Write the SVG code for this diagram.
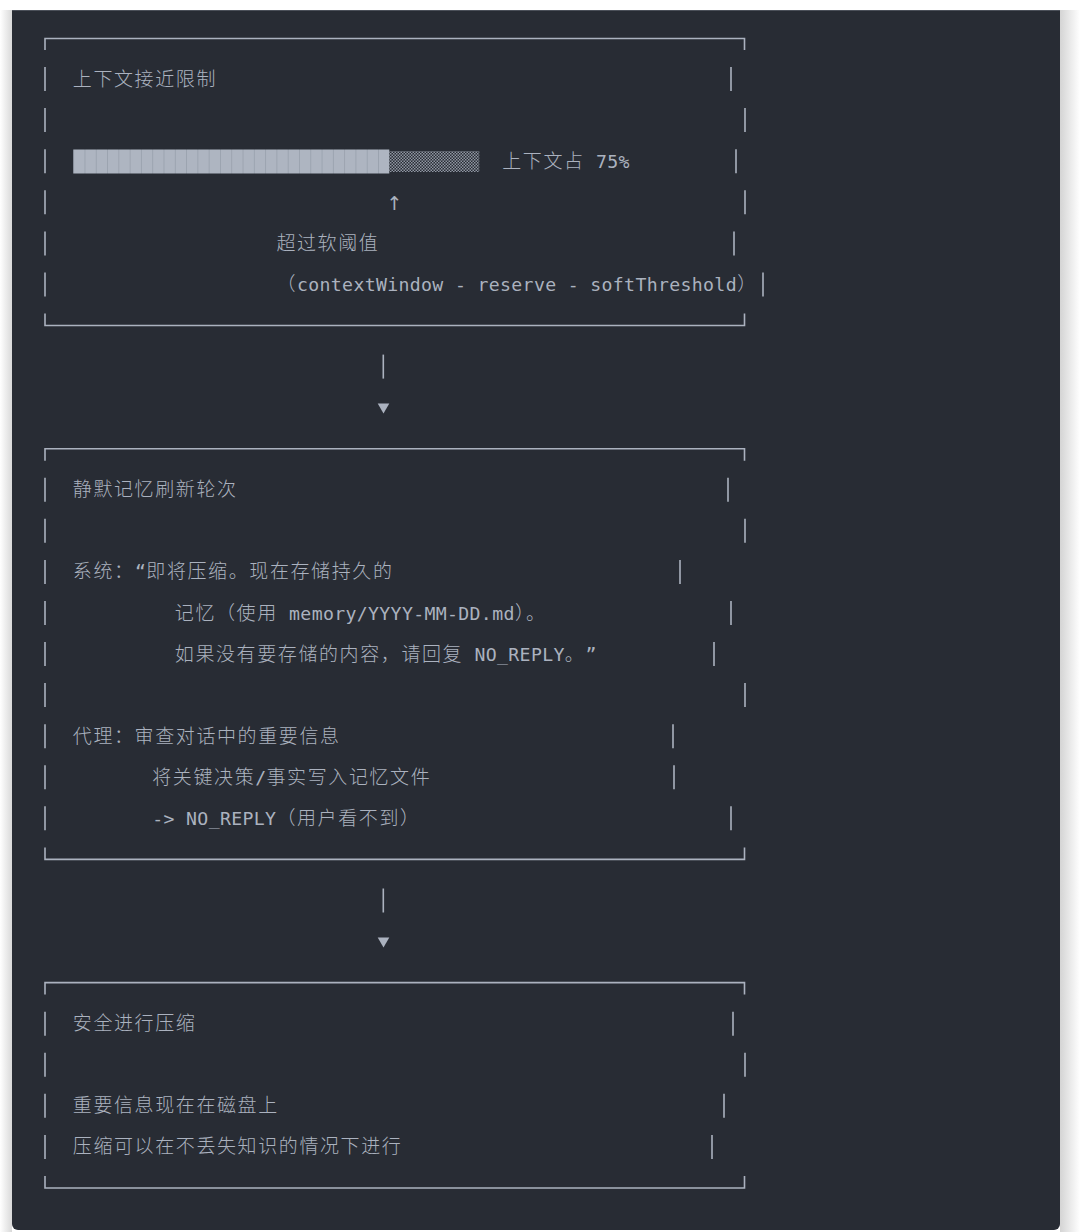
<svg xmlns="http://www.w3.org/2000/svg" width="1080" height="1232" viewBox="0 0 1080 1232">
<defs>
<style>
.m{font-family:"DejaVu Sans Mono","Liberation Mono","Noto Sans CJK SC",monospace;font-size:18.2px;letter-spacing:0.33px;fill:#abb2bf}
.c{font-family:"Noto Sans CJK SC","Noto Sans",sans-serif;font-size:19px;font-weight:300;letter-spacing:1.6px;fill:#abb2bf}
.ar{font-family:"DejaVu Sans","Noto Sans",sans-serif;font-size:19px;fill:#abb2bf}
.ln{fill:none;stroke:#abb2bf;stroke-width:1.6}
</style>
<linearGradient id="shL" x1="0" x2="1" y1="0" y2="0"><stop offset="0" stop-color="#ffffff"/><stop offset="1" stop-color="#d9d9d9"/></linearGradient>
<linearGradient id="shR" x1="0" x2="1" y1="0" y2="0"><stop offset="0" stop-color="#d4d4d4"/><stop offset="1" stop-color="#ffffff"/></linearGradient>
<pattern id="blk" x="73.2" y="0" width="11.29" height="40" patternUnits="userSpaceOnUse"><rect width="11.29" height="40" fill="#aeb5c1"/><rect width="0.8" height="40" fill="#98a0ac"/></pattern>
<pattern id="shd" x="0" y="0" width="3" height="3" patternUnits="userSpaceOnUse"><rect width="1.5" height="1.5" fill="#8f96a2"/><rect x="1.5" y="1.5" width="1.5" height="1.5" fill="#8f96a2"/></pattern>
<polygon id="tri" points="-5.8,-5 5.8,-5 0,5" fill="#abb2bf"/>
</defs>
<rect width="1080" height="1232" fill="#ffffff"/>
<rect x="0" y="10" width="12" height="1222" fill="url(#shL)"/>
<rect x="1060" y="10" width="20" height="1222" fill="url(#shR)"/>
<path d="M12 10H1060V1224A6 6 0 0 1 1054 1230H18A6 6 0 0 1 12 1224Z" fill="#282c34"/>
<line x1="12" y1="10.5" x2="1060" y2="10.5" stroke="#4b5059" stroke-width="1"/>

<g id="box1">
<path class="ln" d="M45 50V38.5H744.5V50M45 313.5V325.5H744.5V313.5M45 67.1V91.1M45 108.1V132.1M45 149.2V173.2M45 190.3V214.3M45 231.4V255.4M45 272.4V296.4M731 67.1V91.1M745 108.1V132.1M736 149.2V173.2M745 190.3V214.3M734 231.4V255.4M763 272.4V296.4"/>
<text class="c" x="72.8" y="85.6">上下文接近限制</text>
<rect x="73.2" y="149.5" width="316.1" height="24" fill="url(#blk)"/>
<rect x="389.3" y="151" width="90" height="21" fill="url(#shd)"/>
<text y="167.7"><tspan class="c" x="502.2">上下文占</tspan><tspan class="m" x="595.9">75%</tspan></text>
<text class="ar" x="394.5" y="209.5" text-anchor="middle">↑</text>
<text class="c" x="276.4" y="249.9">超过软阈值</text>
<text y="290.9"><tspan class="c" x="276.4">（</tspan><tspan class="m" x="297">contextWindow - reserve - softThreshold</tspan><tspan class="c" x="737.3">）</tspan></text>
</g>

<g id="connectors">
<g id="conn1"><line class="ln" x1="383.3" y1="354.6" x2="383.3" y2="378.6"/><use href="#tri" x="383.5" y="408.5"/></g>
<g id="conn2"><line class="ln" x1="383.3" y1="888.5" x2="383.3" y2="912.5"/><use href="#tri" x="383.5" y="942.5"/></g>
</g>

<g id="box2">
<path class="ln" d="M45 460.7V448.7H744.5V460.7M45 847.4V859.4H744.5V847.4M45 477.8V501.8M45 518.8V542.8M45 559.9V583.9M45 601V625M45 642.1V666.1M45 683.1V707.1M45 724.2V748.2M45 765.3V789.3M45 806.3V830.3M728 477.8V501.8M745 518.8V542.8M680 559.9V583.9M731 601V625M714 642.1V666.1M745 683.1V707.1M673 724.2V748.2M674 765.3V789.3M731 806.3V830.3"/>
<text class="c" x="72.8" y="496.3">静默记忆刷新轮次</text>
<text y="578.4"><tspan class="c" x="72.8">系统：</tspan><tspan class="m" x="135">“</tspan><tspan class="c" x="146.3">即将压缩。现在存储持久的</tspan></text>
<text y="619.5"><tspan class="c" x="174.8">记忆（使用</tspan><tspan class="m" x="289.1">memory/YYYY-MM-DD.md</tspan><tspan class="c" x="514.9">）。</tspan></text>
<text y="660.6"><tspan class="c" x="174.8">如果没有要存储的内容，请回复</tspan><tspan class="m" x="474.5">NO_REPLY</tspan><tspan class="c" x="564.8">。</tspan><tspan class="m" x="585.4">”</tspan></text>
<text class="c" x="72.8" y="742.7">代理：审查对话中的重要信息</text>
<text y="783.8"><tspan class="c" x="152.25">将关键决策</tspan><tspan class="m" x="255.25">/</tspan><tspan class="c" x="266.5">事实写入记忆文件</tspan></text>
<text y="824.8"><tspan class="m" x="152.25">-&gt; NO_REPLY</tspan><tspan class="c" x="276.4">（用户看不到）</tspan></text>
</g>

<g id="box3">
<path class="ln" d="M45 994.6V982.6H744.5V994.6M45 1176V1188H744.5V1176M45 1011.7V1035.7M45 1052.8V1076.8M45 1093.8V1117.8M45 1134.9V1158.9M733 1011.7V1035.7M745 1052.8V1076.8M724 1093.8V1117.8M712 1134.9V1158.9"/>
<text class="c" x="72.8" y="1030.2">安全进行压缩</text>
<text class="c" x="72.8" y="1112.3">重要信息现在在磁盘上</text>
<text class="c" x="72.8" y="1153.4">压缩可以在不丢失知识的情况下进行</text>
</g>
</svg>
